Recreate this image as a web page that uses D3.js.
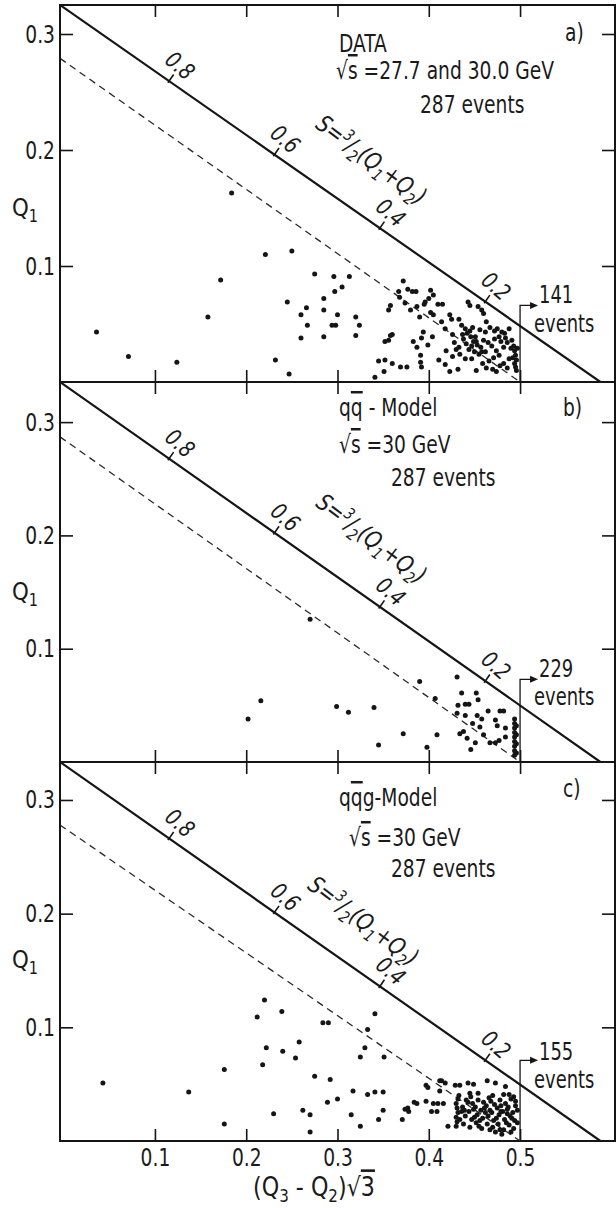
<!DOCTYPE html>
<html><head><meta charset="utf-8">
<script src="https://cdn.jsdelivr.net/npm/d3@7"></script>
<style>
body{margin:0;background:#fff}
text{font-family:"Liberation Sans Narrow","DejaVu Sans Condensed","DejaVu Sans",sans-serif;fill:#1a1a1a}
</style></head>
<body><svg id="chart" width="616" height="1208"></svg>
<script>
// ---------------- data ----------------
const xTicks = [0.1, 0.2, 0.3, 0.4, 0.5];
const yTicks = [0.1, 0.2, 0.3];
const sTicks = [0.8, 0.6, 0.4, 0.2];
const panelTags = ["a)", "b)", "c)"];
const modelNames = [
  [{t:"DATA"}],
  [{t:"q"},{t:"q",over:true},{t:" - Model"}],
  [{t:"q"},{t:"q",over:true},{t:"g-Model"}]
];
const energyTexts = [" =27.7 and 30.0 GeV", " =30 GeV", " =30 GeV"];
const totalEvents = [287, 287, 287];
const eventCounts = [141, 229, 155];
const countCut = 0.5;              // x value of the event-count boundary
const arrowQ1 = [0.066, 0.073, 0.071]; // height of the count arrow
const dashedStartQ1 = [0.279, 0.287, 0.278]; // dashed line at left edge
const dashedEndX = 0.5;
const boundaryEndX = 0.588;        // solid kinematic line meets Q1=0

const pointsA = [
[0.036,0.043],[0.071,0.022],[0.124,0.017],[0.158,0.056],[0.172,0.088],[0.184,0.163],
[0.221,0.110],[0.250,0.113],[0.232,0.019],[0.247,0.007],[0.245,0.069],
[0.275,0.093],[0.296,0.091],[0.313,0.091],[0.305,0.082],[0.297,0.078],[0.285,0.072],
[0.266,0.064],[0.260,0.058],[0.267,0.049],[0.260,0.038],[0.285,0.039],[0.285,0.062],
[0.294,0.049],[0.298,0.049],[0.300,0.058],[0.320,0.056],[0.324,0.049],[0.320,0.040],
[0.341,0.004],[0.351,0.009],[0.352,0.035],[0.360,0.041],[0.356,0.062],[0.358,0.066],
[0.345,0.018],[0.352,0.019],[0.360,0.016],[0.369,0.013],[0.376,0.013],[0.358,0.040],[0.356,0.036],
[0.372,0.087],[0.367,0.078],[0.382,0.078],[0.386,0.078],[0.368,0.073],[0.374,0.068],[0.387,0.065],
[0.396,0.069],[0.400,0.072],[0.405,0.075],[0.395,0.067],[0.410,0.067],[0.415,0.067],
[0.405,0.058],[0.414,0.052],[0.394,0.043],[0.392,0.038],[0.383,0.035],[0.387,0.030],
[0.391,0.023],[0.391,0.017],[0.392,0.013],[0.423,0.058],[0.425,0.054],
[0.443,0.069],[0.445,0.066],[0.454,0.065],[0.458,0.062],[0.460,0.059],
[0.436,0.049],[0.440,0.046],[0.442,0.042],[0.446,0.039],[0.451,0.039],[0.449,0.035],[0.447,0.031],
[0.453,0.032],[0.457,0.030],[0.460,0.036],[0.438,0.037],[0.441,0.033],[0.444,0.028],[0.450,0.026],[0.455,0.024],
[0.428,0.034],[0.430,0.028],[0.434,0.024],[0.440,0.020],
[0.467,0.047],[0.472,0.044],[0.475,0.046],[0.480,0.043],[0.483,0.042],[0.477,0.039],[0.472,0.037],
[0.469,0.031],[0.474,0.027],[0.477,0.023],[0.471,0.021],[0.466,0.018],[0.462,0.026],[0.482,0.030],[0.486,0.034],
[0.493,0.031],[0.494,0.027],[0.495,0.023],[0.496,0.019],[0.494,0.016],[0.495,0.013],[0.496,0.010],[0.492,0.021],[0.497,0.029],
[0.463,0.012],[0.470,0.011],[0.452,0.010],[0.474,0.009],[0.418,0.015],[0.423,0.009],[0.432,0.011],[0.411,0.019],
[0.380,0.062],[0.390,0.056],[0.402,0.060],[0.418,0.046],[0.426,0.041],[0.433,0.054],[0.463,0.052],
[0.488,0.046],[0.482,0.016],[0.488,0.020],[0.459,0.016],
[0.445,0.044],[0.448,0.047],[0.456,0.045],[0.462,0.043],[0.437,0.041],[0.452,0.035],[0.458,0.026],
[0.465,0.034],[0.479,0.035],[0.484,0.038],[0.490,0.029],[0.491,0.036],[0.486,0.012],[0.478,0.014],
[0.447,0.020],[0.433,0.030],[0.426,0.022],[0.419,0.027],[0.404,0.039],[0.399,0.032],[0.377,0.080],[0.402,0.079]
];
const pointsB = [
[0.270,0.126],[0.202,0.038],[0.216,0.054],[0.299,0.049],[0.312,0.044],[0.340,0.048],[0.345,0.015],
[0.372,0.025],[0.398,0.013],[0.409,0.024],[0.390,0.071],[0.407,0.056],[0.431,0.075],[0.436,0.061],
[0.452,0.061],[0.454,0.055],[0.432,0.050],[0.440,0.051],[0.444,0.051],[0.431,0.043],[0.440,0.041],
[0.453,0.041],[0.458,0.038],[0.465,0.045],[0.478,0.045],[0.482,0.045],[0.473,0.037],[0.475,0.032],
[0.484,0.030],[0.456,0.031],[0.438,0.027],[0.442,0.021],[0.451,0.017],[0.446,0.011],[0.467,0.017],
[0.473,0.017],[0.477,0.019],[0.484,0.022],[0.434,0.025],[0.448,0.034],[0.460,0.024],
[0.494,0.006],[0.494,0.010],[0.494,0.014],[0.494,0.018],[0.494,0.022],[0.494,0.026],[0.494,0.030],
[0.494,0.034],[0.494,0.038],[0.496,0.008],[0.496,0.016],[0.496,0.024],[0.496,0.032]
];
const pointsC = [
[0.043,0.051],[0.137,0.043],[0.176,0.063],[0.176,0.015],[0.220,0.124],[0.212,0.109],[0.239,0.114],
[0.222,0.082],[0.218,0.067],[0.240,0.079],[0.258,0.087],[0.254,0.073],[0.230,0.024],[0.262,0.027],
[0.270,0.023],[0.270,0.008],[0.275,0.057],[0.292,0.054],[0.284,0.104],[0.290,0.104],[0.289,0.034],
[0.300,0.037],[0.315,0.023],[0.317,0.044],[0.325,0.074],[0.330,0.082],[0.333,0.098],[0.341,0.112],
[0.333,0.041],[0.341,0.043],[0.350,0.043],[0.351,0.074],[0.350,0.027],[0.345,0.019],[0.325,0.013],
[0.371,0.019],[0.378,0.026],[0.384,0.034],[0.397,0.049],[0.397,0.035],[0.412,0.053],
[0.374,0.028],[0.377,0.029],[0.387,0.033],[0.399,0.047],[0.414,0.053],[0.418,0.051],[0.412,0.044],
[0.429,0.049],[0.434,0.049],[0.443,0.051],[0.449,0.050],[0.464,0.053],[0.473,0.051],[0.484,0.048],
[0.445,0.042],[0.454,0.042],[0.405,0.033],[0.410,0.033],[0.416,0.033],[0.403,0.026],[0.409,0.026],[0.421,0.013],
[0.430,0.013],[0.431,0.017],[0.430,0.021],[0.432,0.025],[0.431,0.029],[0.430,0.033],[0.432,0.037],[0.433,0.040],
[0.438,0.015],[0.440,0.022],[0.437,0.030],[0.441,0.036],
[0.445,0.012],[0.447,0.019],[0.444,0.026],[0.448,0.033],[0.446,0.039],
[0.452,0.016],[0.453,0.023],[0.451,0.030],[0.454,0.036],
[0.458,0.011],[0.459,0.020],[0.457,0.027],[0.460,0.034],
[0.464,0.015],[0.465,0.022],[0.463,0.031],[0.466,0.038],
[0.470,0.012],[0.471,0.018],[0.469,0.025],[0.472,0.032],[0.470,0.040],
[0.476,0.015],[0.477,0.023],[0.475,0.029],[0.478,0.036],
[0.482,0.010],[0.483,0.019],[0.481,0.026],[0.484,0.033],[0.482,0.041],
[0.488,0.014],[0.489,0.022],[0.487,0.030],[0.490,0.037],
[0.493,0.011],[0.494,0.018],[0.492,0.025],[0.495,0.031],[0.493,0.039],
[0.497,0.016],[0.497,0.027],
[0.436,0.026],[0.449,0.028],[0.462,0.025],[0.479,0.031],[0.486,0.024],[0.455,0.013],[0.467,0.010],
[0.480,0.006],[0.473,0.008],[0.490,0.008],
[0.434,0.019],[0.439,0.027],[0.443,0.034],[0.456,0.018],[0.461,0.029],[0.468,0.035],[0.474,0.020],
[0.479,0.026],[0.485,0.016],[0.491,0.020],[0.495,0.035],[0.488,0.041],[0.450,0.021],[0.467,0.027],
[0.478,0.010],[0.486,0.028]
];
const allPoints = [pointsA, pointsB, pointsC];

// ---------------- layout ----------------
const layout = [
  {top:5,   bottom:382,  yMax:0.325,
   title:[{x:339,y:52},{x:336,y:79},{x:420,y:113}], tag:{x:565,y:41}, q1:{x:12,y:216}, sLab:[18,43], cnt:[-2,27]},
  {top:382, bottom:762,  yMax:0.3354,
   title:[{x:339,y:416},{x:339,y:453},{x:391,y:486}], tag:{x:563,y:416}, q1:{x:12,y:600}, sLab:[18,43], cnt:[-2,26]},
  {top:762, bottom:1141, yMax:0.3334,
   title:[{x:339,y:806},{x:349,y:846},{x:391,y:877}], tag:{x:563,y:797}, q1:{x:12,y:968}, sLab:[13,36], cnt:[0,28]}
];
const FS = 25;      // font size
const SX = 0.83;    // horizontal condensing of the lettering
const svg = d3.select("#chart");
const x = d3.scaleLinear().domain([-0.004, 0.604]).range([60, 615]);
const ink = "#151515";

function rich(sel, segs) {
  let shift = 0;
  segs.forEach(s => {
    const want = s.sub ? 6 : s.sup ? -9 : 0;
    const t = sel.append("tspan").text(s.t);
    if (want !== shift) { t.attr("dy", want - shift); shift = want; }
    if (s.sub || s.sup) t.style("font-size", "0.68em");
    if (s.over) t.style("text-decoration", "overline");
  });
}
function ctext(parent, px, py, size, sx) {
  return parent.append("text")
    .attr("transform", `translate(${px},${py}) scale(${sx === undefined ? SX : sx},1)`)
    .style("font-size", (size || FS) + "px");
}

layout.forEach((L, i) => {
  const y = d3.scaleLinear().domain([0, L.yMax]).range([L.bottom, L.top]);
  const g = svg.append("g");
  const clipId = "clip" + i;
  svg.append("clipPath").attr("id", clipId).append("rect")
    .attr("x", x.range()[0]).attr("y", L.top)
    .attr("width", x.range()[1] - x.range()[0]).attr("height", L.bottom - L.top);

  const plot = g.append("g").attr("clip-path", `url(#${clipId})`);
  const line = d3.line().x(d => x(d[0])).y(d => y(d[1]));
  const xmin = x.domain()[0];

  // kinematic boundary (solid)
  plot.append("path").attr("d", line([[xmin, L.yMax], [boundaryEndX, 0]])).attr("fill", "none")
    .attr("stroke", ink).attr("stroke-width", 2.2);
  // dashed line
  plot.append("path").attr("d", line([[xmin, dashedStartQ1[i]], [dashedEndX, 0]]))
    .attr("fill", "none").attr("stroke", "#2a2a2a").attr("stroke-width", 1.3)
    .attr("stroke-dasharray", "7,5");

  // points
  plot.selectAll("circle").data(allPoints[i]).join("circle")
    .attr("cx", d => x(d[0])).attr("cy", d => y(d[1])).attr("r", 2.5).attr("fill", ink);

  // count boundary + arrow
  const ax = x(countCut), ay = y(arrowQ1[i]);
  g.append("path").attr("d", `M${ax},${y(0)}V${ay}H${ax + 12}`)
    .attr("fill", "none").attr("stroke", ink).attr("stroke-width", 1.3);
  g.append("path").attr("d", `M${ax + 18},${ay}L${ax + 10},${ay - 3.5}L${ax + 10},${ay + 3.5}Z`).attr("fill", ink);
  ctext(g, ax + 19, ay + L.cnt[0], 24).text(eventCounts[i]);
  ctext(g, ax + 14, ay + L.cnt[1], 24).text("events");

  // axes (ticks pointing inward)
  const fmt = d3.format(".1f");
  const left = g.append("g").attr("transform", `translate(${x.range()[0]},0)`)
    .call(d3.axisLeft(y).tickValues(yTicks).tickSize(-13).tickPadding(5).tickFormat(fmt));
  const right = g.append("g").attr("transform", `translate(${x.range()[1]},0)`)
    .call(d3.axisRight(y).tickValues(yTicks).tickSize(-13).tickFormat(""));
  const top = g.append("g").attr("transform", `translate(0,${L.top})`)
    .call(d3.axisTop(x).tickValues(xTicks).tickSize(-12).tickFormat(""));
  const bot = g.append("g").attr("transform", `translate(0,${L.bottom})`)
    .call(d3.axisBottom(x).tickValues(xTicks).tickSize(-12).tickPadding(7)
      .tickFormat(i === 2 ? fmt : ""));
  [left, right, top, bot].forEach(a => {
    a.select(".domain").remove();
    a.selectAll("line").attr("stroke", ink).attr("stroke-width", 1.6);
    a.selectAll("text").style("font-size", FS + "px").attr("fill", "#1a1a1a")
      .style("font-family", null).attr("transform", `scale(${SX},1)`);
  });
  left.selectAll("text").attr("x", -5 / SX);
  g.append("rect").attr("x", x.range()[0]).attr("y", L.top)
    .attr("width", x.range()[1] - x.range()[0]).attr("height", L.bottom - L.top)
    .attr("fill", "none").attr("stroke", ink).attr("stroke-width", 2);

  // S ticks along the boundary line
  const p0 = [x(xmin), y(L.yMax)], p1 = [x(boundaryEndX), y(0)];
  const ang = Math.atan2(p1[1] - p0[1], p1[0] - p0[0]);
  const u = [Math.cos(ang), Math.sin(ang)], n = [Math.sin(ang), -Math.cos(ang)];
  const onLine = xv => {
    const t = (x(xv) - p0[0]) / (p1[0] - p0[0]);
    return [p0[0] + t * (p1[0] - p0[0]), p0[1] + t * (p1[1] - p0[1])];
  };
  const deg = ang * 180 / Math.PI;
  sTicks.forEach(s => {
    const p = onLine((1 - s) / Math.sqrt(3));
    g.append("line").attr("x1", p[0] - 2 * n[0]).attr("y1", p[1] - 2 * n[1])
      .attr("x2", p[0] + 8 * n[0]).attr("y2", p[1] + 8 * n[1])
      .attr("stroke", ink).attr("stroke-width", 1.6);
    const lx = p[0] + 19 * n[0], ly = p[1] + 19 * n[1];
    g.append("text").attr("transform", `translate(${lx},${ly}) rotate(${deg + 6}) scale(0.9,1)`)
      .attr("text-anchor", "middle").attr("dy", "0.35em")
      .style("font-size", "23px").style("font-style", "italic").text(s.toFixed(1));
  });
  // S formula label
  const pm = onLine((1 - 0.5) / Math.sqrt(3));
  const sl = [pm[0] + L.sLab[0] * u[0] + L.sLab[1] * n[0], pm[1] + L.sLab[0] * u[1] + L.sLab[1] * n[1]];
  const st = g.append("text").attr("transform", `translate(${sl[0]},${sl[1]}) rotate(${deg + 2}) scale(0.9,1)`)
    .attr("text-anchor", "middle").style("font-size", "24px").style("font-style", "italic");
  rich(st, [{t:"S="},{t:"3",sup:true},{t:"/"},{t:"2",sub:true},{t:"(Q"},{t:"1",sub:true},
            {t:"+Q"},{t:"2",sub:true},{t:")"}]);

  // title block
  rich(ctext(g, L.title[0].x, L.title[0].y), modelNames[i]);
  rich(ctext(g, L.title[1].x, L.title[1].y), [{t:"√"},{t:"s",over:true},{t:energyTexts[i]}]);
  ctext(g, L.title[2].x, L.title[2].y).text(totalEvents[i] + " events");
  ctext(g, L.tag.x, L.tag.y).text(panelTags[i]);

  // y title
  rich(ctext(g, L.q1.x, L.q1.y, FS, 0.95), [{t:"Q"},{t:"1",sub:true}]);
});

// x-axis title
rich(ctext(svg, 253, 1196, 26, 0.95),
     [{t:"(Q"},{t:"3",sub:true},{t:" - Q"},{t:"2",sub:true},{t:")√"},{t:"3",over:true}]);
</script></body></html>
